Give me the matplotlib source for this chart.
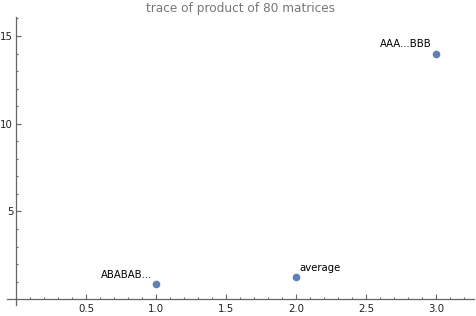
import matplotlib
matplotlib.use("Agg")
import matplotlib.pyplot as plt
from matplotlib.ticker import MultipleLocator, FixedLocator

x_vals = [1, 2, 3]
y_vals = [0.88, 1.27, 14.0]
labels = ["ABABAB...", "average", "AAA...BBB"]
label_side = ["left", "right", "left"]
title = "trace of product of 80 matrices"

fig = plt.figure(figsize=(4.77, 3.16), dpi=100)
ax = fig.add_axes([6.5/477, 11/316, (474-6.5)/477, (298.6-11)/316])
ax.set_xlim(-0.068, 3.27)
ax.set_ylim(-0.33, 16.06)

for s in ["top", "right"]:
    ax.spines[s].set_visible(False)
for s in ["left", "bottom"]:
    ax.spines[s].set_position(("data", 0))
    ax.spines[s].set_color("#666666")
    ax.spines[s].set_linewidth(0.9)

ax.xaxis.set_major_locator(FixedLocator([0.5, 1.0, 1.5, 2.0, 2.5, 3.0]))
ax.xaxis.set_minor_locator(MultipleLocator(0.1))
ax.yaxis.set_major_locator(FixedLocator([5, 10, 15]))
ax.yaxis.set_minor_locator(MultipleLocator(1))
ax.set_xticklabels(["0.5", "1.0", "1.5", "2.0", "2.5", "3.0"])
ax.set_yticklabels(["5", "10", "15"])
ax.tick_params(which="both", direction="in", color="#666666", width=0.8,
               labelsize=7.4, labelcolor="#222222")
ax.tick_params(which="major", length=3.3)
ax.tick_params(axis="y", which="major", pad=2)
ax.tick_params(axis="x", which="major", pad=3.5)
ax.tick_params(which="minor", length=1.7)

ax.plot(x_vals, y_vals, "o", color="#5E81B5", markersize=4.5, clip_on=False)

for x, y, t, side in zip(x_vals, y_vals, labels, label_side):
    if side == "left":
        ax.annotate(t, (x, y), xytext=(-3, 3), textcoords="offset points",
                    ha="right", va="bottom", fontsize=7.3, color="black")
    else:
        ax.annotate(t, (x, y), xytext=(2, 3), textcoords="offset points",
                    ha="left", va="bottom", fontsize=7.3, color="black")

fig.text(241/477, 1 - 8.5/316, title, ha="center", va="center", fontsize=8.7, color="#777777")

fig.savefig("out.png", dpi=100)
